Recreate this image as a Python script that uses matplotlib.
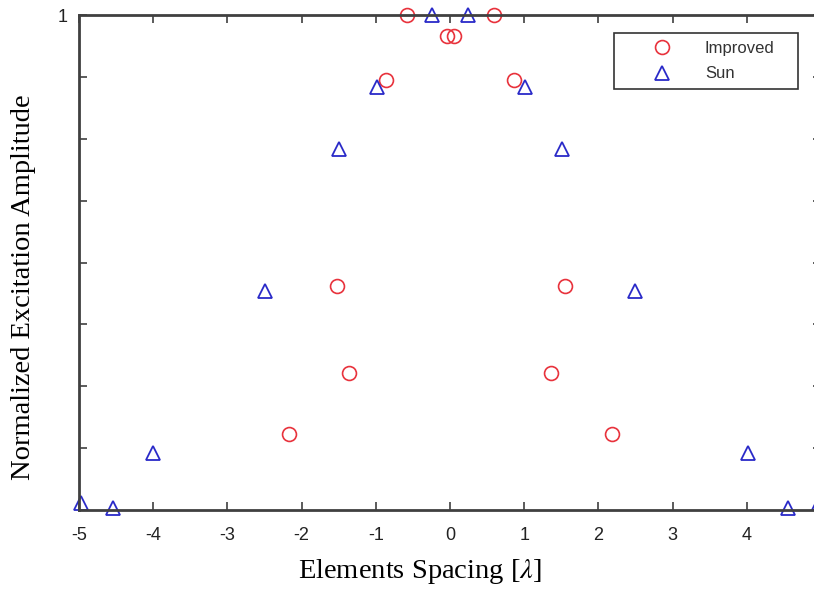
import numpy as np
import matplotlib.pyplot as plt

plt.rcParams['axes.unicode_minus'] = False
plt.rcParams['mathtext.fontset'] = 'stix'

# Improved array: element positions [lambda] and normalized amplitudes
imp_x = [-0.58, 0.59, -0.04, 0.05, -0.86, 0.86, -1.52, 1.55, -1.36, 1.36, -2.17, 2.18]
imp_y = [1.0, 1.0, 0.958, 0.958, 0.869, 0.869, 0.453, 0.453, 0.277, 0.277, 0.154, 0.154]

# Sun array
sun_x = [-0.24, 0.24, -0.98, 1.01, -1.5, 1.51, -2.49, 2.49, -4.0, 4.02, -4.97, -4.54, 4.55, 4.97]
sun_y = [1.0, 1.0, 0.855, 0.855, 0.729, 0.729, 0.442, 0.442, 0.115, 0.115, 0.014, 0.004, 0.004, 0.014]

xticks = [-5, -4, -3, -2, -1, 0, 1, 2, 3, 4, 5]
yticks = np.arange(0, 1.001, 0.125)

fig = plt.figure(figsize=(8.14, 5.90), dpi=100)
ax = fig.add_axes([79/814, 80/590, 742/814, 495/590])

ax.plot(imp_x, imp_y, 'o', markersize=10, markerfacecolor='none', markeredgecolor='#e8323c',
        markeredgewidth=1.2, clip_on=False, label='Improved')
ax.plot(sun_x, sun_y, '^', markersize=10.5, markerfacecolor='none', markeredgecolor='#2a2ac8',
        markeredgewidth=1.3, clip_on=False, label='Sun')

ax.set_xlim(-5, 5)
ax.set_ylim(0, 1)
ax.set_xticks(xticks)
# the "5" label falls off the right edge of the picture
ax.set_xticklabels([str(v) if v < 5 else '' for v in xticks])
ax.set_yticks(yticks)
ax.set_yticklabels(['' if v < 1 else '1' for v in yticks])
ax.tick_params(direction='in', length=6, width=1.2, color='#404040', labelsize=13,
               labelcolor='#222222', top=True, right=True)
ax.tick_params(axis='x', pad=12)
ax.tick_params(axis='y', pad=8)
for lab in ax.get_xticklabels() + ax.get_yticklabels():
    lab.set_family('Liberation Sans')
for sp in ax.spines.values():
    sp.set_color('#404040')
    sp.set_linewidth(2)

ax.set_xlabel('Elements Spacing [$\\lambda$]', family='Liberation Serif', fontsize=20.5)
ax.set_ylabel('Normalized Excitation Amplitude', family='Liberation Serif', fontsize=20.5)
ax.xaxis.set_label_coords((420-79)/742, -0.094)
ax.yaxis.set_label_coords(-0.058, 0.45)

leg = ax.legend(loc='upper left', bbox_to_anchor=((614-79)/742, 0.85, 184/742, 0.9636-0.85),
                mode='expand', borderaxespad=0, frameon=True, fancybox=False, edgecolor='black',
                prop={'family': 'Liberation Sans', 'size': 12}, handletextpad=0.2,
                borderpad=0.45, labelspacing=0.65, handlelength=4.8)
leg.get_frame().set_linewidth(1.2)
for t in leg.get_texts():
    t.set_color('#333333')

plt.savefig('out.png', dpi=100)
